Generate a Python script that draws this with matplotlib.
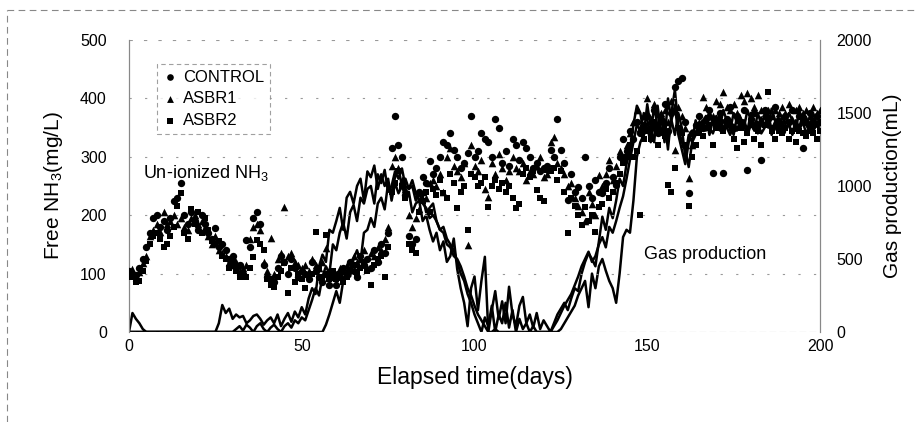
import matplotlib
matplotlib.use("Agg")
import matplotlib.pyplot as plt
from matplotlib.lines import Line2D

plt.rcParams['font.family'] = ['Liberation Sans', 'DejaVu Sans']
plt.rcParams['mathtext.default'] = 'regular'

# ---------------- data ----------------
days = list(range(0, 201))

nh3_control = [
    105, 100, 98, 110, 125, 145, 170, 195, 200, 180,
    190, 175, 195, 225, 230, 255, 200, 185, 205, 190,
    175, 200, 185, 170, 160, 178, 145, 150, 140, 125,
    130, 110, 115, 100, 157, 145, 195, 205, 185, 115,
    95, 90, 85, 110, 130, 120, 100, 125, 110, 95,
    105, 100, 90, 120, 105, 95, 85, 100, 80, 100,
    80, 95, 110, 100, 120, 105, 95, 130, 115, 125,
    110, 140, 120, 150, 135, 170, 315, 370, 320, 300,
    235, 165, 150, 160, 240, 265, 255, 293, 270, 280,
    300, 325, 320, 340, 312, 300, 281, 290, 306, 370,
    300, 310, 340, 330, 325, 300, 365, 350, 290, 310,
    285, 330, 320, 295, 325, 315, 300, 280, 290, 275,
    280, 285, 311, 300, 365, 311, 290, 226, 270, 240,
    248, 230, 300, 250, 230, 260, 240, 238, 255, 280,
    265, 252, 300, 330, 310, 345, 330, 360, 340, 355,
    370, 350, 380, 340, 365, 390, 345, 375, 420, 430,
    435, 360, 238, 340, 355, 370, 350, 365, 380, 272,
    360, 375, 272, 365, 385, 350, 370, 360, 380, 277,
    365, 375, 355, 294, 380, 365, 350, 385, 360, 345,
    370, 360, 380, 350, 370, 315, 360, 375, 355, 370, 360,
]

nh3_asbr1 = [
    100, 108, 95, 102, 118, 130, 165, 175, 185, 172,
    205, 185, 190, 200, 185, 195, 180, 175, 195, 200,
    185, 190, 180, 165, 150, 165, 140, 135, 130, 120,
    115, 120, 105, 110, 115, 160, 180, 185, 175, 120,
    105, 161, 100, 125, 135, 214, 130, 135, 120, 115,
    110, 115, 105, 125, 115, 110, 120, 144, 100, 95,
    100, 110, 105, 115, 110, 130, 120, 125, 140, 110,
    135, 130, 145, 140, 160, 180, 285, 300, 280, 260,
    245, 200, 180, 195, 210, 240, 230, 255, 260, 250,
    270, 240, 300, 315, 285, 275, 265, 290, 149, 320,
    285, 275, 295, 245, 231, 290, 270, 305, 280, 260,
    275, 300, 280, 275, 290, 260, 275, 270, 285, 300,
    265, 270, 325, 334, 290, 280, 270, 250, 255, 230,
    215, 205, 190, 240, 220, 200, 268, 250, 270, 294,
    260, 285, 310, 300, 320, 340, 360, 380, 350, 370,
    400, 365, 390, 355, 375, 380, 360, 395, 312, 385,
    370, 350, 264, 320, 345, 360, 402, 385, 375, 370,
    395, 390, 411, 385, 380, 390, 375, 405, 395, 410,
    400, 385, 405, 380, 375, 380, 370, 380, 375, 385,
    375, 390, 365, 380, 385, 375, 380, 370, 385, 375, 380,
]

nh3_asbr2 = [
    100, 95, 86, 88, 105, 122, 150, 165, 170, 160,
    146, 150, 165, 180, 215, 238, 170, 160, 210, 185,
    205, 170, 195, 175, 155, 150, 155, 130, 125, 110,
    120, 105, 95, 100, 95, 110, 129, 157, 150, 140,
    90, 80, 77, 95, 105, 118, 67, 110, 85, 100,
    90, 75, 95, 100, 171, 110, 95, 166, 90, 105,
    90, 100, 85, 95, 105, 115, 100, 110, 120, 105,
    80, 115, 125, 130, 95, 145, 240, 255, 275, 250,
    230, 150, 140, 135, 205, 225, 240, 205, 245, 235,
    260, 238, 230, 270, 255, 212, 240, 250, 175, 270,
    265, 250, 255, 265, 214, 250, 260, 245, 255, 240,
    250, 230, 212, 220, 270, 280, 265, 275, 243, 230,
    225, 278, 275, 280, 260, 275, 240, 170, 230, 215,
    200, 183, 214, 190, 200, 171, 214, 220, 245, 230,
    240, 255, 270, 290, 300, 320, 300, 310, 200, 330,
    345, 330, 360, 320, 345, 335, 252, 240, 281, 350,
    340, 320, 216, 300, 320, 340, 335, 350, 355, 320,
    350, 360, 345, 355, 360, 330, 315, 350, 325, 340,
    355, 330, 345, 320, 355, 411, 345, 330, 345, 340,
    350, 330, 345, 325, 345, 340, 335, 345, 340, 330, 345,
]

gas_1 = [
    0, 130, 90, 60, 20, 0, 0, 0, 0, 0,
    0, 0, 0, 0, 0, 0, 0, 0, 0, 0,
    0, 0, 0, 0, 0, 0, 60, 185, 130, 160,
    90, 120, 100, 110, 60, 80, 110, 120, 90, 50,
    80, 100, 60, 120, 40, 90, 130, 70, 140, 100,
    170, 120, 230, 300, 260, 450, 530, 480, 700, 680,
    760, 850, 700, 920, 960, 880, 1000, 1050, 900, 1100,
    1060, 1140, 980, 1080, 1000, 1050, 900, 1020, 950, 1000,
    930, 960, 820, 880, 900, 760, 800, 700, 620, 680,
    560, 620, 480, 520, 640, 430, 300, 200, 40, 300,
    380, 150, 350, 515, 0, 150, 280, 90, 210, 60,
    310, 120, 40, 180, 240, 60, 120, 30, 130, 20,
    80, 40, 0, 60, 120, 160, 200, 150, 230, 300,
    280, 400, 480, 540, 500, 450, 620, 790, 700, 850,
    780, 900, 1050, 1000, 1150, 1250, 1420, 1550, 1500, 1350,
    1560, 1400, 1300, 1550, 1350, 1450, 1250, 1500, 1660, 1400,
    1300, 1250, 1130, 1300, 1350, 1400, 1450, 1380, 1500, 1420,
    1480, 1400, 1520, 1450, 1380, 1500, 1430, 1470, 1400, 1520,
    1450, 1380, 1500, 1420, 1480, 1400, 1530, 1450, 1390, 1480,
    1420, 1500, 1450, 1380, 1520, 1440, 1470, 1400, 1500, 1430, 1460,
]

gas_2 = [
    0, 0, 0, 0, 0, 0, 0, 0, 0, 0,
    0, 0, 0, 0, 0, 0, 0, 0, 0, 0,
    0, 0, 0, 0, 0, 0, 0, 0, 0, 0,
    0, 20, 40, 10, 50, 30, 0, 40, 60, 20,
    0, 30, 50, 20, 0, 40, 60, 30, 80, 60,
    100, 80, 150, 220, 300, 250, 380, 450, 400, 600,
    560, 680, 750, 640, 820, 870, 760, 920, 880, 980,
    1000, 880, 1080, 1020, 1110, 960, 1000, 1100, 1050, 1120,
    1000, 980, 1040, 950, 900, 930, 820, 850, 880, 760,
    700, 720, 640, 600, 560, 480, 400, 350, 260, 200,
    120, 60, 0, 100, 40, 180, 0, 120, 60, 200,
    30, 150, 0, 90, 20, 60, 0, 40, 0, 0,
    0, 0, 0, 40, 80, 130, 180, 220, 260, 320,
    380, 450, 500, 550, 480, 520, 600, 650, 580, 720,
    680, 760, 850, 930, 1050, 1180, 1300, 1420, 1380, 1500,
    1450, 1350, 1550, 1400, 1480, 1300, 1600, 1450, 1350, 1500,
    1400, 1200, 1350, 1300, 1450, 1380, 1420, 1480, 1350, 1450,
    1400, 1500, 1380, 1460, 1420, 1350, 1480, 1400, 1450, 1380,
    1500, 1420, 1360, 1470, 1410, 1500, 1380, 1440, 1470, 1400,
    1480, 1410, 1360, 1450, 1400, 1490, 1420, 1370, 1460, 1410, 1390,
]

gas_3 = [
    0, 0, 0, 0, 0, 0, 0, 0, 0, 0,
    0, 0, 0, 0, 0, 0, 0, 0, 0, 0,
    0, 0, 0, 0, 0, 0, 0, 0, 0, 0,
    0, 0, 0, 0, 0, 0, 0, 0, 0, 0,
    0, 0, 0, 0, 0, 0, 0, 0, 0, 0,
    0, 0, 0, 0, 0, 0, 0, 50, 120, 200,
    280, 200, 350, 420, 380, 500, 560, 480, 680, 700,
    780, 720, 880, 920, 840, 1020, 950, 1060, 1120, 1000,
    1050, 980, 1000, 900, 950, 880, 850, 780, 800, 760,
    700, 680, 600, 580, 520, 500, 450, 380, 300, 250,
    180, 120, 80, 40, 0, 0, 20, 0, 0, 0,
    0, 0, 0, 0, 0, 0, 0, 0, 0, 0,
    0, 0, 0, 0, 0, 20, 60, 100, 140, 180,
    250, 300, 350, 170, 400, 300, 450, 500, 420, 350,
    300, 200, 400, 650, 700, 680, 900, 1200, 1300, 1350,
    1400, 1300, 1450, 1350, 1500, 1400, 1300, 1450, 1550, 1350,
    1250, 1150, 1300, 1380, 1350, 1420, 1380, 1450, 1400, 1360,
    1430, 1380, 1450, 1400, 1350, 1420, 1380, 1460, 1410, 1350,
    1420, 1380, 1440, 1360, 1400, 1450, 1350, 1420, 1380, 1440,
    1390, 1430, 1350, 1420, 1380, 1440, 1360, 1410, 1370, 1430, 1400,
]

series_labels = ["CONTROL", "ASBR1", "ASBR2"]
left_ticks = [0, 100, 200, 300, 400, 500]
right_ticks = [0, 500, 1000, 1500, 2000]
x_ticks = [0, 50, 100, 150, 200]

# ---------------- figure ----------------
fig = plt.figure(figsize=(9.15, 4.22), dpi=100)
ax = fig.add_axes([129 / 915, 1 - 332 / 422, (820 - 129) / 915, (332 - 40) / 422])
ax2 = ax.twinx()

# outer dashed frame of the scanned figure
fig.add_artist(Line2D([7 / 915, 1.0], [1 - 10 / 422, 1 - 10 / 422], transform=fig.transFigure,
                      color='#888888', lw=0.8, ls=(0, (6, 4))))
fig.add_artist(Line2D([7 / 915, 7 / 915], [0, 1 - 10 / 422], transform=fig.transFigure,
                      color='#888888', lw=0.8, ls=(0, (6, 4))))

# gas production lines (right axis)
for g in (gas_1, gas_2, gas_3):
    ax2.plot(days, g, color='black', lw=1.8, zorder=2)

# free NH3 scatter (left axis)
ax.scatter(days, nh3_control, marker='o', s=28, color='black', linewidths=0, zorder=3,
           label=series_labels[0])
ax.scatter(days, nh3_asbr1, marker='^', s=30, color='black', linewidths=0, zorder=3,
           label=series_labels[1])
ax.scatter(days, nh3_asbr2, marker='s', s=22, color='black', linewidths=0, zorder=3,
           label=series_labels[2])

ax.set_zorder(ax2.get_zorder() + 1)
ax.patch.set_visible(False)

ax.set_xlim(0, 200)
ax.set_ylim(0, 500)
ax2.set_ylim(0, 2000)
ax.set_xticks(x_ticks)
ax.set_yticks(left_ticks)
ax2.set_yticks(right_ticks)

# grid lines
for yv in [100, 200, 300, 400]:
    ax.axhline(yv, color='#999999', lw=0.8, ls=(0, (2, 12)), zorder=0)

for a in (ax, ax2):
    for side in ['top', 'bottom']:
        a.spines[side].set_visible(False)
    a.spines['left'].set_color('#888888')
    a.spines['right'].set_color('#888888')
    a.spines['left'].set_linewidth(0.8)
    a.spines['right'].set_linewidth(0.8)
ax.axhline(500, color='#999999', lw=0.8, ls=(0, (3, 10)), zorder=0)
ax.axhline(0, color='#999999', lw=0.8, ls=(0, (6, 3)), zorder=0)

ax.tick_params(axis='both', length=0, labelsize=11.5)
ax.tick_params(axis='y', pad=16)
ax.tick_params(axis='x', pad=5)
ax2.tick_params(axis='y', length=0, labelsize=11.5, pad=12)

ax.set_xlabel('Elapsed time(days)', fontsize=16.5, labelpad=9)
ax.set_ylabel('Free NH$_3$(mg/L)', fontsize=15, labelpad=11)
ax2.set_ylabel('Gas production(mL)', fontsize=15, labelpad=8)

ax.text(4, 273, 'Un-ionized NH$_3$', fontsize=13, ha='left', va='center')
ax.text(149, 133, 'Gas production', fontsize=13, ha='left', va='center')

leg = ax.legend(loc='upper left', bbox_to_anchor=(0.0405, 0.918), borderaxespad=0,
                fontsize=12, frameon=True, fancybox=False, handletextpad=0.3,
                handlelength=0.9, labelspacing=0.4, borderpad=0.35, markerscale=0.9)
fr = leg.get_frame()
fr.set_edgecolor('#888888')
fr.set_linewidth(0.8)
fr.set_linestyle((0, (4, 3)))

fig.savefig('out.png', dpi=100)
